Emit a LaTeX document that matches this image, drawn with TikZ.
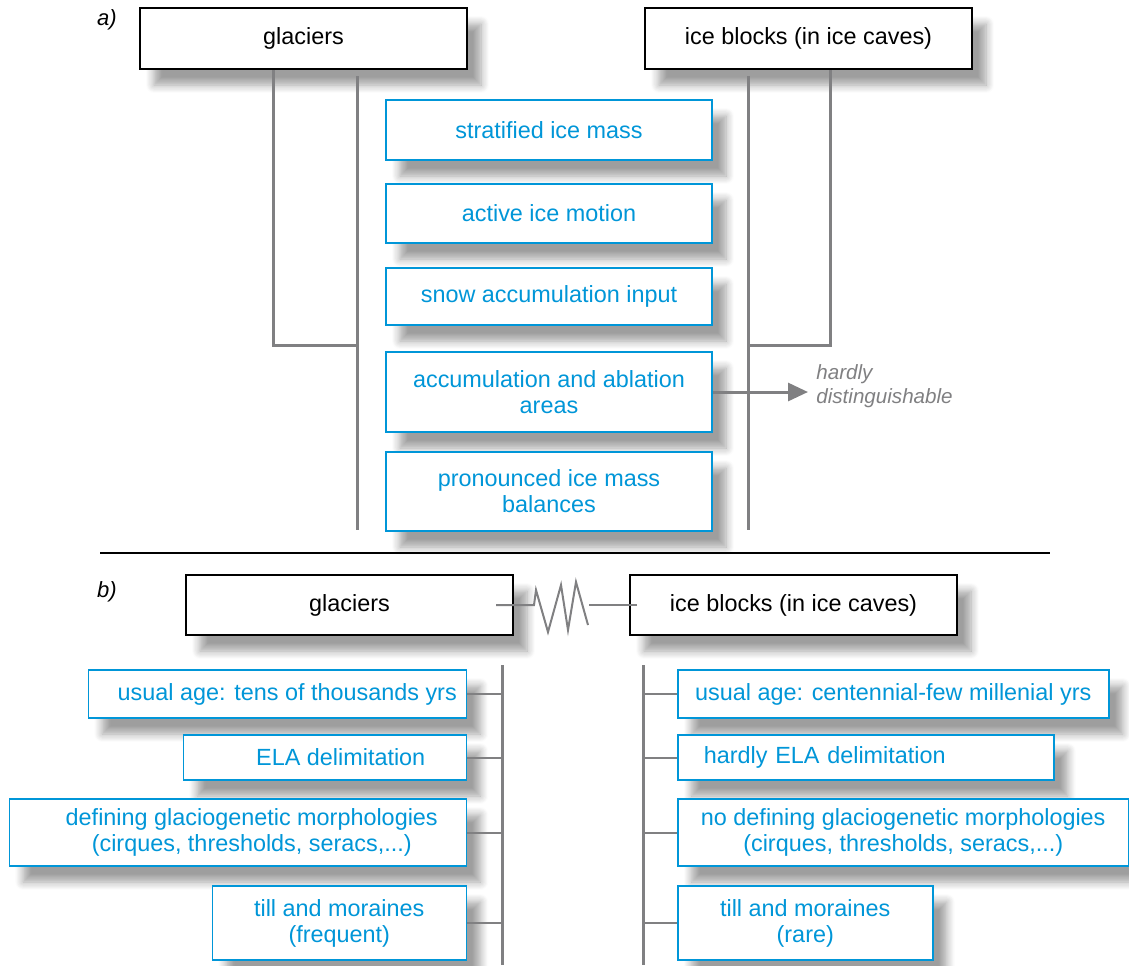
\documentclass[tikz,border=0pt]{standalone}
\usepackage{fontspec}
\setmainfont{Liberation Sans}
\usepackage{tikz}
\usetikzlibrary{arrows.meta, positioning, shadows, shadows.blur, calc}
\usepackage{xcolor}
\definecolor{skyblu}{RGB}{0,150,216}
\definecolor{linegray}{RGB}{128,128,130}

\begin{document}
\begin{tikzpicture}[
    x=0.5pt, y=-0.5pt,
    shade/.style = {blur shadow={shadow xshift=7pt, shadow yshift=-8pt, shadow blur radius=4pt, shadow blur steps=8, shadow opacity=38}},
    header/.style = {rectangle, draw=black, line width=1pt, fill=white, shade, font=\fontsize{11.7}{13}\selectfont, inner sep=0pt, minimum width=163.5pt, minimum height=30.5pt},
    box/.style = {rectangle, draw=skyblu, line width=0.75pt, fill=white, shade, text=skyblu, align=center, font=\fontsize{11.7}{13}\selectfont, inner sep=0pt},
    abox/.style = {box, minimum width=163pt},
    link/.style = {draw=linegray, line width=1.5pt},
    tick/.style = {draw=linegray, line width=1pt},
    arrow/.style = {link, -{Triangle[length=10pt, width=9pt]}},
    note/.style = {text=linegray, font=\fontsize{10.3}{12}\selectfont\itshape, align=left, anchor=west, inner sep=4pt},
    tag/.style = {font=\fontsize{11}{12}\selectfont\itshape}
]
\useasboundingbox (0,0) rectangle (1129,965);

% Panel a: headers
\node (a_tag) [tag, at={(107,20)}] {a)};
\node (h_glac) [header, at={(303.5,38.5)}] {glaciers};
\node (h_ice) [header, at={(808.5,38.5)}] {ice blocks (in ice caves)};

% Panel a: shared properties
\node (a_strat) [abox, minimum height=30pt, at={(549,130)}] {stratified ice mass};
\node (a_motion) [abox, minimum height=29.5pt, at={(549,213.5)}] {active ice motion};
\node (a_snow) [abox, minimum height=28.5pt, at={(549,296.5)}] {snow accumulation input};
\node (a_areas) [abox, minimum height=40pt, at={(549,392)}] {accumulation and ablation\\areas};
\node (a_bal) [abox, minimum height=39.5pt, at={(549,491.5)}] {pronounced ice mass\\balances};

% Panel a: brackets
\coordinate (g_knee) at (273,345);
\coordinate (g_top) at (357,76);
\coordinate (g_end) at (357,530);
\coordinate (i_knee) at (830,345);
\coordinate (i_top) at (748,76);
\coordinate (i_end) at (748,530);

\draw [link] (h_glac.south -| g_knee) -- (g_knee) -- (g_knee -| g_top);
\draw [link] (g_top) -- (g_end);
\draw [link] (h_ice.south -| i_knee) -- (i_knee) -- (i_knee -| i_top);
\draw [link] (i_top) -- (i_end);

\node (a_note) [note, at={(808,386)}] {hardly\\distinguishable};
\draw [arrow] (a_areas.east) -- (a_areas.east -| a_note.west);

% Separator
\coordinate (rule_l) at (100,553);
\coordinate (rule_r) at (1050,553);
\draw [line width=1pt] (rule_l) -- (rule_r);

% Panel b: headers
\node (b_tag) [tag, at={(107,592)}] {b)};
\node (b_glac) [header, minimum height=30pt, at={(349.5,605)}] {glaciers};
\node (b_ice) [header, minimum height=30pt, at={(793.5,605)}] {ice blocks (in ice caves)};

\draw [tick] ([xshift=-9pt]b_glac.east) -- ++(38,0) -- ++(2,-15) -- ++(12,42) -- ++(13,-47) -- ++(7,45) -- ++(8,-48) -- ++(12,43);
\draw [tick] ([xshift=4pt]b_ice.west) -- ++(-48,0);

% Panel b: glaciers column
\node (g_age) [box, anchor=east, minimum width=189pt, minimum height=24pt, at={(467,694)}] {\hspace*{10pt}usual age: tens of thousands yrs};
\node (g_ela) [box, anchor=east, minimum width=141.5pt, minimum height=22.5pt, at={(467,757.5)}] {\hspace*{16pt}ELA delimitation};
\node (g_morph) [box, anchor=east, minimum width=228.5pt, minimum height=33.5pt, at={(467,832.5)}] {\hspace*{14pt}defining glaciogenetic morphologies\\\hspace*{14pt}(cirques, thresholds, seracs,...)};
\node (g_till) [box, anchor=east, minimum width=127pt, minimum height=37pt, at={(467,923)}] {till and moraines\\(frequent)};

% Panel b: ice blocks column
\node (i_age) [box, anchor=west, minimum width=215.5pt, minimum height=24pt, at={(677,694)}] {usual age: centennial-few millenial yrs};
\node (i_ela) [box, anchor=west, align=left, text width=162pt, inner xsep=13pt, minimum height=22.5pt, at={(677,757.5)}] {hardly ELA delimitation};
\node (i_morph) [box, anchor=west, minimum width=225.5pt, minimum height=33.5pt, at={(677,832.5)}] {no defining glaciogenetic morphologies\\(cirques, thresholds, seracs,...)};
\node (i_till) [box, anchor=west, minimum width=127.5pt, minimum height=37pt, at={(677,923)}] {till and moraines\\(rare)};

% Panel b: bars
\coordinate (gb_top) at (502,665);
\coordinate (gb_end) at (502,965);
\coordinate (ib_top) at (643,665);
\coordinate (ib_end) at (643,965);

\draw [link] (gb_top) -- (gb_end);
\draw [link] (ib_top) -- (ib_end);

\draw [tick] (g_age.east) -- (g_age.east -| gb_top);
\draw [tick] (g_ela.east) -- (g_ela.east -| gb_top);
\draw [tick] (g_morph.east) -- (g_morph.east -| gb_top);
\draw [tick] (g_till.east) -- (g_till.east -| gb_top);

\draw [tick] (i_age.west) -- (i_age.west -| ib_top);
\draw [tick] (i_ela.west) -- (i_ela.west -| ib_top);
\draw [tick] (i_morph.west) -- (i_morph.west -| ib_top);
\draw [tick] (i_till.west) -- (i_till.west -| ib_top);

\end{tikzpicture}
\end{document}
